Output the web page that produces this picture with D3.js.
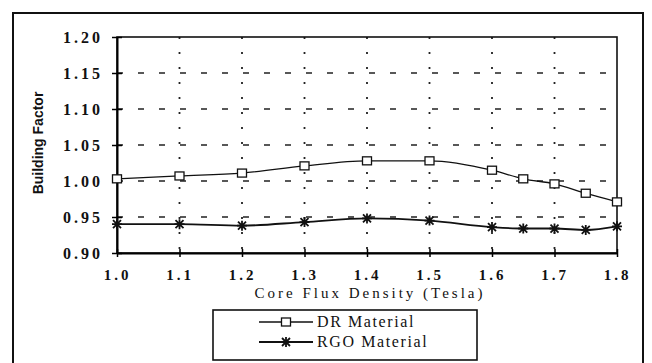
<!DOCTYPE html>
<html>
<head>
<meta charset="utf-8">
<script src="https://cdn.jsdelivr.net/npm/d3@7"></script>
<style>
  body { margin: 0; background: #fff; }
  svg { display: block; }
</style>
</head>
<body>
<script>
// data
var fluxDensity = [1.0, 1.1, 1.2, 1.3, 1.4, 1.5, 1.6, 1.65, 1.7, 1.75, 1.8];
var drMaterial  = [1.003, 1.007, 1.011, 1.021, 1.028, 1.028, 1.015, 1.003, 0.996, 0.983, 0.971];
var rgoMaterial = [0.940, 0.940, 0.938, 0.943, 0.948, 0.945, 0.936, 0.934, 0.934, 0.932, 0.937];
var xTicks = [1.0, 1.1, 1.2, 1.3, 1.4, 1.5, 1.6, 1.7, 1.8];
var yTicks = [0.90, 0.95, 1.00, 1.05, 1.10, 1.15, 1.20];
var seriesNames = ["DR Material", "RGO Material"];

var W = 652, H = 363;
var margin = {top: 37, right: 35, bottom: 110, left: 117},
    width = W - margin.left - margin.right,
    height = H - margin.top - margin.bottom;

var x = d3.scaleLinear().domain([1.0, 1.8]).range([0, width]);
var y = d3.scaleLinear().domain([0.90, 1.20]).range([height, 0]);

var serif = "'Liberation Serif', 'DejaVu Serif', serif";

var svg = d3.select("body").append("svg")
    .attr("width", W)
    .attr("height", H);

// outer frame (runs off the bottom of the scan)
svg.append("path")
    .attr("d", "M13,372 V13 H643 V372")
    .attr("fill", "none")
    .attr("stroke", "#111")
    .attr("stroke-width", 2);

var g = svg.append("g")
    .attr("transform", "translate(" + margin.left + "," + margin.top + ")");

// horizontal dashed grid
g.selectAll(".hgrid")
    .data(yTicks.filter(function(d) { return d > 0.9 && d < 1.2; }))
  .enter().append("line")
    .attr("x1", 0).attr("x2", width)
    .attr("y1", function(d) { return y(d); })
    .attr("y2", function(d) { return y(d); })
    .attr("stroke", "#222")
    .attr("stroke-width", 1.6)
    .attr("stroke-dasharray", "6,15");

// vertical dotted grid
g.selectAll(".vgrid")
    .data(xTicks.filter(function(d) { return d > 1.0 && d < 1.8; }))
  .enter().append("line")
    .attr("y1", 0).attr("y2", height)
    .attr("x1", function(d) { return x(d); })
    .attr("x2", function(d) { return x(d); })
    .attr("stroke", "#222")
    .attr("stroke-width", 1.8)
    .attr("stroke-dasharray", "2,13");

// plot frame
g.append("rect")
    .attr("width", width).attr("height", height)
    .attr("fill", "none")
    .attr("stroke", "#111")
    .attr("stroke-width", 1.6);

// Y axis
var yAxis = g.append("g")
    .call(d3.axisLeft(y).tickValues(yTicks).tickFormat(d3.format(".2f"))
      .tickSizeInner(-5).tickSizeOuter(0).tickPadding(14));
yAxis.select(".domain").attr("stroke-width", 2);
yAxis.selectAll(".tick line").attr("x1", -5).attr("stroke-width", 1.5);
yAxis.selectAll("text")
    .attr("font-family", serif).attr("font-size", 16).attr("font-weight", "bold")
    .attr("letter-spacing", 3)
    .attr("fill", "#111");

// X axis
var xAxis = g.append("g")
    .attr("transform", "translate(0," + height + ")")
    .call(d3.axisBottom(x).tickValues(xTicks).tickFormat(d3.format(".1f"))
      .tickSizeInner(-4).tickSizeOuter(0).tickPadding(16));
xAxis.select(".domain").attr("stroke-width", 2);
xAxis.selectAll(".tick line").attr("y1", 4).attr("stroke-width", 1.5);
xAxis.selectAll("text")
    .attr("font-family", serif).attr("font-size", 15).attr("font-weight", "bold")
    .attr("letter-spacing", 3)
    .attr("fill", "#111");

// axis titles
svg.append("text")
    .attr("x", 370).attr("y", 298)
    .attr("text-anchor", "middle")
    .attr("font-family", serif).attr("font-size", 15)
    .attr("letter-spacing", 3)
    .attr("fill", "#111")
    .text("Core Flux Density (Tesla)");

svg.append("text")
    .attr("transform", "translate(43,143) rotate(-90)")
    .attr("text-anchor", "middle")
    .attr("font-family", "'Liberation Sans Narrow', 'Liberation Sans', sans-serif")
    .attr("font-size", 14).attr("font-weight", "bold")
    .attr("fill", "#111")
    .text("Building Factor");

// lines
var line = d3.line()
    .x(function(d, i) { return x(fluxDensity[i]); })
    .y(function(d) { return y(d); })
    .curve(d3.curveMonotoneX);

g.append("path").datum(drMaterial)
    .attr("fill", "none").attr("stroke", "#111").attr("stroke-width", 1.3)
    .attr("d", line);
g.append("path").datum(rgoMaterial)
    .attr("fill", "none").attr("stroke", "#111").attr("stroke-width", 1.8)
    .attr("d", line);

var star = "M-5,0H5M0,-5V5M-4,-4L4,4M-4,4L4,-4";

function square(sel) {
  sel.append("rect")
    .attr("x", -4.5).attr("y", -4)
    .attr("width", 9).attr("height", 8)
    .attr("fill", "#fff").attr("stroke", "#111").attr("stroke-width", 1.3);
}
function asterisk(sel) {
  sel.append("path").attr("d", star)
    .attr("stroke", "#111").attr("stroke-width", 1.8);
}

g.selectAll(".dr").data(drMaterial).enter().append("g")
    .attr("transform", function(d, i) { return "translate(" + x(fluxDensity[i]) + "," + y(d) + ")"; })
    .call(square);
g.selectAll(".rgo").data(rgoMaterial).enter().append("g")
    .attr("transform", function(d, i) { return "translate(" + x(fluxDensity[i]) + "," + y(d) + ")"; })
    .call(asterisk);

// legend
var legend = svg.append("g");
legend.append("rect")
    .attr("x", 213).attr("y", 310).attr("width", 264).attr("height", 50)
    .attr("fill", "#fff").attr("stroke", "#111").attr("stroke-width", 1.6);

var markers = [square, asterisk];
seriesNames.forEach(function(name, i) {
  var ly = 322 + i * 20;
  legend.append("line")
    .attr("x1", 259).attr("x2", 313).attr("y1", ly).attr("y2", ly)
    .attr("stroke", "#111").attr("stroke-width", i ? 1.8 : 1.3);
  legend.append("g").attr("transform", "translate(286," + ly + ")").call(markers[i]);
  legend.append("text")
    .attr("x", 317).attr("y", ly + 5)
    .attr("font-family", serif).attr("font-size", 16)
    .attr("letter-spacing", 1.6)
    .attr("fill", "#111")
    .text(name);
});
</script>
</body>
</html>
